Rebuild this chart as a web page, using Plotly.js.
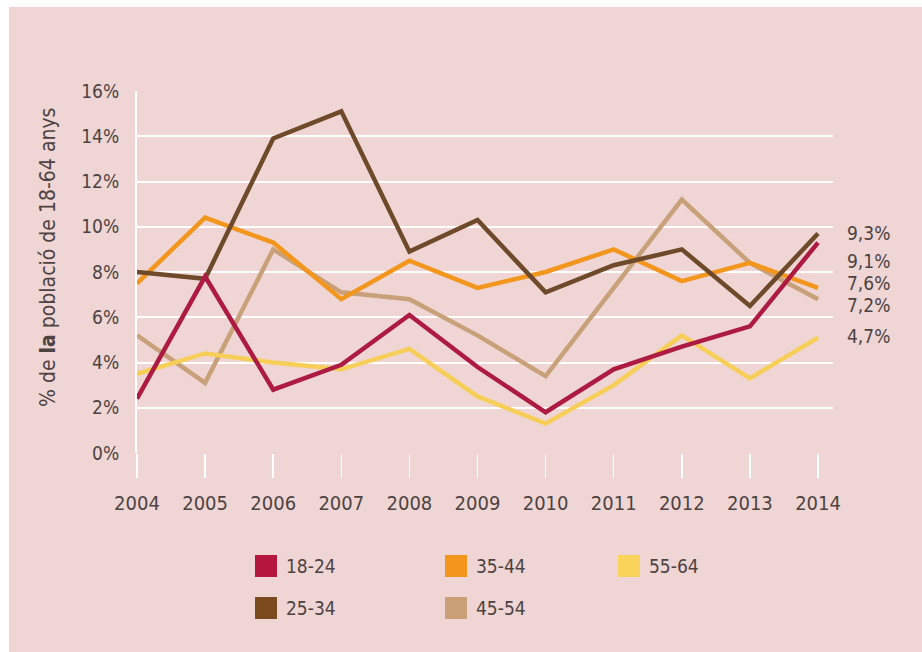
<!DOCTYPE html>
<html>
<head>
<meta charset="utf-8">
<script src="https://cdn.plot.ly/plotly-3.0.1.min.js"></script>
<style>
  html, body { margin: 0; padding: 0; background: #ffffff; width: 922px; height: 652px; overflow: hidden; }
  #chart { position: absolute; left: 9px; top: 7px; width: 913px; height: 645px; }
</style>
</head>
<body>
<div id="chart"></div>
<script>
// ---- data ----
const years = [2004, 2005, 2006, 2007, 2008, 2009, 2010, 2011, 2012, 2013, 2014];
const seriesNames = ["18-24", "25-34", "35-44", "45-54", "55-64"];
const v18_24 = [2.4, 7.8, 2.8, 3.9, 6.1, 3.8, 1.8, 3.7, 4.7, 5.6, 9.3];
const v25_34 = [8.0, 7.7, 13.9, 15.1, 8.9, 10.3, 7.1, 8.3, 9.0, 6.5, 9.7];
const v35_44 = [7.5, 10.4, 9.3, 6.8, 8.5, 7.3, 8.0, 9.0, 7.6, 8.4, 7.3];
const v45_54 = [5.2, 3.1, 9.0, 7.1, 6.8, 5.2, 3.4, 7.3, 11.2, 8.4, 6.8];
const v55_64 = [3.5, 4.4, 4.0, 3.7, 4.6, 2.5, 1.3, 3.0, 5.2, 3.3, 5.1];
const endLabels = ["9,3%", "9,1%", "7,6%", "7,2%", "4,7%"];
const yTickVals = [0, 2, 4, 6, 8, 10, 12, 14, 16];
const yTickText = ["0%", "2%", "4%", "6%", "8%", "10%", "12%", "14%", "16%"];

// ---- style ----
const colors = {"18-24": "#ad1a42", "25-34": "#6e4a2b", "35-44": "#f2961d", "45-54": "#c8a07a", "55-64": "#f7cf58"};
const swatch = {"18-24": "#b5173f", "25-34": "#7b4a1e", "35-44": "#f5961c", "45-54": "#c9a077", "55-64": "#f9d35a"};
const values = {"18-24": v18_24, "25-34": v25_34, "35-44": v35_44, "45-54": v45_54, "55-64": v55_64};
const FONT = '"Liberation Sans Narrow", "DejaVu Sans Condensed", "Roboto", sans-serif';
const TXT = "#4d4343";
const BG = "#efd5d3";

// layout geometry (pixels in the div)
const W = 913, H = 645;
const M = {l: 128, r: 89, t: 84, b: 199};
const pw = W - M.l - M.r, ph = H - M.t - M.b;
// page pixel -> paper coords (div is offset by 9,7)
const px = x => (x - 9 - M.l) / pw;
const py = y => 1 - (y - 7 - M.t) / ph;

const drawOrder = ["45-54", "55-64", "35-44", "25-34", "18-24"];
const traces = drawOrder.map(n => ({
  type: "scatter", mode: "lines", name: n, x: years, y: values[n],
  line: {color: colors[n], width: 4.5}, showlegend: false, hoverinfo: "skip"
}));

const shapes = [];
const annotations = [];

// legend (manual, square swatches)
const legendItems = [
  {n: "18-24", x: 255, y: 566}, {n: "35-44", x: 445, y: 566}, {n: "55-64", x: 618, y: 566},
  {n: "25-34", x: 255, y: 608}, {n: "45-54", x: 445, y: 608}
];
legendItems.forEach(it => {
  shapes.push({type: "rect", xref: "paper", yref: "paper",
    x0: px(it.x), x1: px(it.x + 22), y0: py(it.y - 11), y1: py(it.y + 11),
    fillcolor: swatch[it.n], line: {width: 0}});
  annotations.push({xref: "paper", yref: "paper", x: px(it.x + 29), y: py(it.y),
    xanchor: "left", yanchor: "middle", showarrow: false, text: it.n,
    font: {family: FONT, size: 19, color: TXT}});
});

// end labels
const endY = [233, 261, 283, 305, 336];
endLabels.forEach((t, i) => {
  annotations.push({xref: "paper", yref: "paper", x: px(845), y: py(endY[i]),
    xanchor: "left", yanchor: "middle", showarrow: false, text: t,
    font: {family: FONT, size: 19, color: TXT}});
});

// y axis title
annotations.push({xref: "paper", yref: "paper", x: px(48), y: py(258),
  xanchor: "center", yanchor: "middle", showarrow: false, textangle: -90,
  text: "% de <b>la</b> població de 18-64 anys",
  font: {family: FONT, size: 21, color: TXT}});

const layout = {
  width: W, height: H,
  margin: M,
  paper_bgcolor: BG, plot_bgcolor: BG,
  showlegend: false,
  font: {family: FONT, color: TXT},
  xaxis: {
    range: [2004, 2014.22], tickvals: years, ticktext: years.map(String),
    showgrid: false, zeroline: false, showline: false,
    ticks: "outside", ticklen: 24, tickwidth: 1.5, tickcolor: "#ffffff",
    ticklabelstandoff: 8,
    tickfont: {family: FONT, size: 20, color: TXT}, fixedrange: true
  },
  yaxis: {
    range: [0, 16], tickvals: yTickVals, ticktext: yTickText,
    showgrid: true, gridcolor: "#ffffff", gridwidth: 2,
    zeroline: false, showline: true, linecolor: "#ffffff", linewidth: 2,
    ticks: "", ticklabelstandoff: 12,
    tickfont: {family: FONT, size: 19, color: TXT}, fixedrange: true
  },
  shapes: shapes,
  annotations: annotations
};

Plotly.newPlot("chart", traces, layout, {displayModeBar: false, staticPlot: true});
</script>
</body>
</html>
